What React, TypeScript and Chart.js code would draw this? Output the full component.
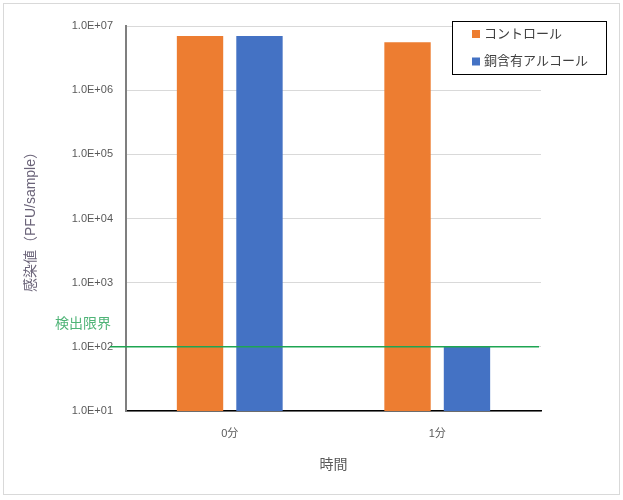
import React, { useEffect, useRef } from "react";
import { Chart, registerables } from "chart.js";

Chart.register(...registerables);

const categories = ["0分", "1分"];
const controlValues = [7.0e6, 5.6e6];
const copperValues = [7.0e6, 100];
const seriesLabels = ["コントロール", "銅含有アルコール"];
const seriesColors = ["#ED7D31", "#4472C4"];
const yTickValues = [1e1, 1e2, 1e3, 1e4, 1e5, 1e6, 1e7];
const yTickLabels = ["1.0E+01", "1.0E+02", "1.0E+03", "1.0E+04", "1.0E+05", "1.0E+06", "1.0E+07"];
const detectionLimit = 100;
const detectionLabel = "検出限界";
const xTitle = "時間";
const yTitle = "感染値（PFU/sample）";

const FONT = "'Liberation Sans', 'Noto Sans CJK JP', sans-serif";
const TEXT = "#595959";

const framePlugin = {
  id: "frame",
  beforeDraw(chart: any) {
    const ctx = chart.ctx;
    ctx.save();
    ctx.fillStyle = "#ffffff";
    ctx.fillRect(0, 0, chart.width, chart.height);
    ctx.strokeStyle = "#d9d9d9";
    ctx.lineWidth = 1;
    ctx.strokeRect(3.5, 3.5, 616, 491);
    ctx.restore();
  },
};

const limitPlugin = {
  id: "limitLine",
  afterDatasetsDraw(chart: any) {
    const ctx = chart.ctx;
    const y = chart.scales.y.getPixelForValue(detectionLimit);
    const area = chart.chartArea;
    ctx.save();
    ctx.strokeStyle = "#1ea552";
    ctx.lineWidth = 1.5;
    ctx.beginPath();
    ctx.moveTo(110, y);
    ctx.lineTo(area.right - 2, y);
    ctx.stroke();
    ctx.fillStyle = "#4fb477";
    ctx.font = `14px ${FONT}`;
    ctx.textAlign = "center";
    ctx.textBaseline = "middle";
    ctx.fillText(detectionLabel, 83, y - 23);
    ctx.restore();
  },
};

const legendPlugin = {
  id: "customLegend",
  afterDraw(chart: any) {
    const ctx = chart.ctx;
    ctx.save();
    const bx = 452.5, by = 21.5, bw = 154, bh = 53;
    ctx.fillStyle = "#ffffff";
    ctx.fillRect(bx, by, bw, bh);
    ctx.strokeStyle = "#000000";
    ctx.lineWidth = 1;
    ctx.strokeRect(bx, by, bw, bh);
    ctx.font = `13px ${FONT}`;
    ctx.textBaseline = "middle";
    ctx.textAlign = "left";
    chart.data.datasets.forEach((ds: any, i: number) => {
      const cy = 34 + i * 27.5;
      ctx.fillStyle = ds.backgroundColor;
      ctx.fillRect(472, cy - 4, 8, 8);
      ctx.fillStyle = "#404040";
      ctx.fillText(ds.label, 484, cy);
    });
    ctx.restore();
  },
};

export default function App() {
  const ref = useRef<HTMLCanvasElement>(null);
  useEffect(() => {
    if (!ref.current) return;
    const chart = new Chart(ref.current, {
      type: "bar",
      data: {
        labels: categories,
        datasets: [
          { label: seriesLabels[0], data: controlValues, backgroundColor: seriesColors[0] },
          { label: seriesLabels[1], data: copperValues, backgroundColor: seriesColors[1] },
        ],
      },
      options: {
        responsive: false,
        animation: false,
        devicePixelRatio: 1,
        layout: { padding: { left: 0, right: 82, top: 26, bottom: 0 } },
        datasets: { bar: { categoryPercentage: 0.573, barPercentage: 0.78 } },
        plugins: { legend: { display: false }, tooltip: { enabled: false } },
        scales: {
          x: {
            type: "category",
            grid: { display: false, drawTicks: false },
            border: { display: true, color: "#000000", width: 1.5 },
            ticks: { color: TEXT, font: { family: FONT, size: 11 }, padding: 16 },
            title: { display: true, text: xTitle, color: TEXT, font: { family: FONT, size: 14 }, padding: { top: 0, bottom: 26 } },
            afterFit: (s: any) => { s.height = 89; },
          },
          y: {
            type: "logarithmic",
            min: 10,
            max: 1e7,
            grid: { color: "#d9d9d9", drawTicks: false, lineWidth: 1 },
            border: { display: true, color: "#7f7f7f", width: 2 },
            afterBuildTicks: (s: any) => { s.ticks = yTickValues.map((v) => ({ value: v })); },
            ticks: {
              color: TEXT,
              font: { family: FONT, size: 11 },
              padding: 13,
              callback: (_v: any, i: number) => yTickLabels[i],
            },
            title: { display: true, text: yTitle, color: "#6b6479", font: { family: FONT, size: 14 }, padding: { top: 23, bottom: 0 } },
            afterFit: (s: any) => { s.width = 126; },
          },
        },
      },
      plugins: [framePlugin, limitPlugin, legendPlugin],
    });
    return () => chart.destroy();
  }, []);
  return (
    <div style={{ position: "absolute", left: 0, top: 0, width: 623, height: 500 }}>
      <canvas ref={ref} width={623} height={500} style={{ display: "block" }} />
    </div>
  );
}
